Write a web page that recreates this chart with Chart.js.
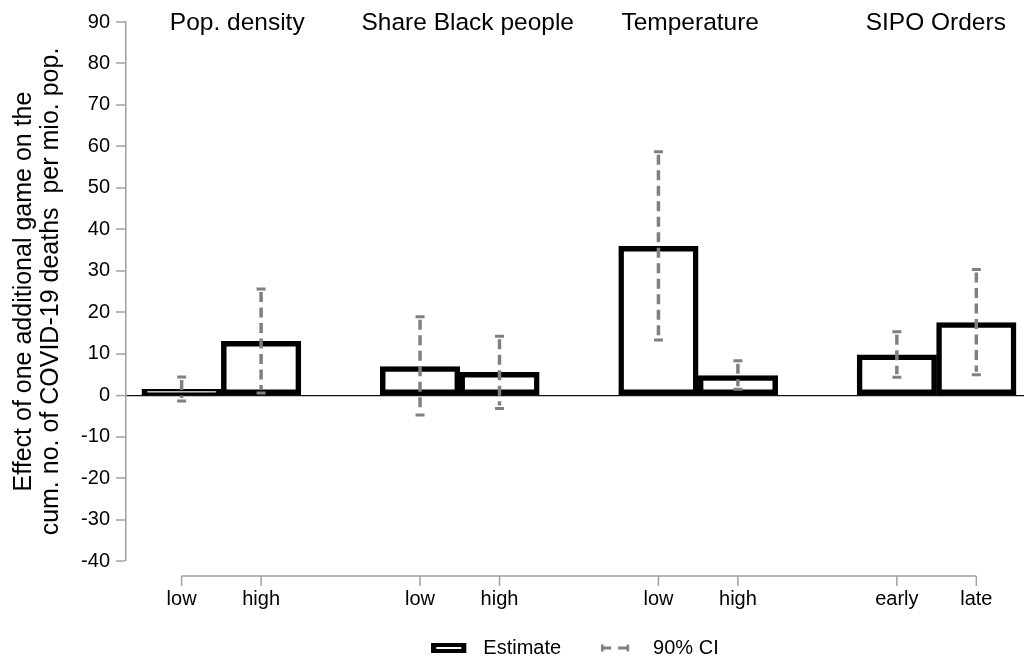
<!DOCTYPE html>
<html>
<head>
<meta charset="utf-8">
<script src="https://cdn.jsdelivr.net/npm/chart.js@4.4.1/dist/chart.umd.min.js"></script>
<style>
  html, body { margin: 0; padding: 0; background: #fff; }
  #wrap { width: 1024px; height: 657px; }
</style>
</head>
<body>
<div id="wrap"><canvas id="chart"></canvas></div>
<script>
// data
const groups = ['Pop. density', 'Share Black people', 'Temperature', 'SIPO Orders'];
const xLabels = ['low', 'high', 'low', 'high', 'low', 'high', 'early', 'late'];
const estimates = [1.4, 13.0, 6.9, 5.5, 35.9, 4.7, 9.7, 17.5];
const ciLow = [-1.4, 0.5, -4.8, -3.2, 13.3, 1.4, 4.3, 4.9];
const ciHigh = [4.4, 25.6, 18.9, 14.2, 58.7, 8.3, 15.3, 30.3];
const yMin = -40;
const yMax = 90;
const yStep = 10;

// bar slots on the x scale, one empty slot between groups
const slots = [1, 2, 4, 5, 7, 8, 10, 11];
const titleSlots = [1.70, 4.60, 7.40, 10.49];

const FONT = "'Liberation Sans', Arial, sans-serif";
Chart.defaults.font.family = FONT;
Chart.defaults.color = '#000';

function legendBar() {
  const c = document.createElement('canvas');
  c.width = 42; c.height = 10;
  const g = c.getContext('2d');
  g.fillStyle = '#000';
  g.fillRect(0, 0, 35, 10);
  g.fillStyle = '#fff';
  g.fillRect(5, 4, 25, 2);
  return c;
}

function legendCI() {
  const c = document.createElement('canvas');
  c.width = 42; c.height = 10;
  const g = c.getContext('2d');
  g.fillStyle = '#808080';
  g.fillRect(0, 1.5, 2.5, 7);
  g.fillRect(0, 3.5, 10, 3);
  g.fillRect(17, 3.5, 11, 3);
  g.fillRect(25.5, 1.5, 2.5, 7);
  return c;
}

const decor = {
  id: 'decor',
  afterDatasetsDraw(chart) {
    const ctx = chart.ctx;
    const x = chart.scales.x;
    const y = chart.scales.y;
    ctx.save();

    // confidence intervals
    ctx.strokeStyle = '#808080';
    slots.forEach((s, i) => {
      const px = x.getPixelForValue(s);
      const top = y.getPixelForValue(ciHigh[i]);
      const bot = y.getPixelForValue(ciLow[i]);
      ctx.lineWidth = 3.5;
      ctx.setLineDash([10, 5.5]);
      ctx.beginPath();
      ctx.moveTo(px, top + 3);
      ctx.lineTo(px, bot - 3);
      ctx.stroke();
      ctx.setLineDash([]);
      ctx.lineWidth = 3;
      ctx.beginPath();
      ctx.moveTo(px - 4.5, top); ctx.lineTo(px + 4.5, top);
      ctx.moveTo(px - 4.5, bot); ctx.lineTo(px + 4.5, bot);
      ctx.stroke();
    });

    // detached x axis line, ticks and labels
    const ay = chart.chartArea.bottom + 15;
    ctx.strokeStyle = '#a0a0a0';
    ctx.lineWidth = 1.5;
    ctx.beginPath();
    ctx.moveTo(x.getPixelForValue(slots[0]), ay);
    ctx.lineTo(x.getPixelForValue(slots[slots.length - 1]), ay);
    slots.forEach(s => {
      const px = x.getPixelForValue(s);
      ctx.moveTo(px, ay);
      ctx.lineTo(px, ay + 10);
    });
    ctx.stroke();

    ctx.fillStyle = '#000';
    ctx.font = '20px ' + FONT;
    ctx.textAlign = 'center';
    ctx.textBaseline = 'middle';
    slots.forEach((s, i) => ctx.fillText(xLabels[i], x.getPixelForValue(s), ay + 23));

    // group titles
    ctx.font = '24.5px ' + FONT;
    ctx.textBaseline = 'alphabetic';
    groups.forEach((g, i) => ctx.fillText(g, x.getPixelForValue(titleSlots[i]), 30));
    ctx.restore();
  }
};

new Chart(document.getElementById('chart'), {
  type: 'bar',
  data: {
    datasets: [{
      label: 'Estimate',
      data: slots.map((s, i) => ({x: s, y: estimates[i]})),
      backgroundColor: '#fff',
      borderColor: '#000',
      borderWidth: 5.5,
      borderSkipped: false,
      categoryPercentage: 1,
      barPercentage: 1
    }]
  },
  options: {
    responsive: true,
    maintainAspectRatio: false,
    animation: false,
    layout: { padding: { top: 22, right: 0, bottom: -11, left: 0 } },
    plugins: {
      tooltip: { enabled: false },
      legend: {
        position: 'bottom',
        fullSize: false,
        labels: {
          usePointStyle: true,
          pointStyleWidth: 42,
          padding: 40,
          font: { size: 20 },
          color: '#000',
          generateLabels: () => [
            { text: 'Estimate', pointStyle: legendBar(), fillStyle: '#000', strokeStyle: '#000', lineWidth: 0, hidden: false, datasetIndex: 0 },
            { text: '90% CI', pointStyle: legendCI(), fillStyle: '#808080', strokeStyle: '#808080', lineWidth: 0, hidden: false, datasetIndex: 0 }
          ]
        }
      }
    },
    scales: {
      x: {
        type: 'linear',
        offset: false,
        min: 0.3,
        max: 11.6,
        grid: { display: false, drawTicks: false },
        border: { display: false },
        afterBuildTicks: s => { s.ticks = slots.map(v => ({ value: v })); },
        afterFit: s => { s.height = 37; },
        ticks: { display: false }
      },
      y: {
        min: yMin,
        max: yMax,
        afterFit: s => { s.width = 126; },
        border: { display: true, color: '#a0a0a0', width: 1.5 },
        grid: {
          drawOnChartArea: true,
          color: c => (c.tick && c.tick.value === 0) ? '#111' : 'rgba(0,0,0,0)',
          lineWidth: c => (c.tick && c.tick.value === 0) ? 1.2 : 0,
          tickLength: 10,
          tickColor: '#a0a0a0',
          tickWidth: 1.5
        },
        ticks: {
          stepSize: yStep,
          padding: 6,
          font: { size: 20 },
          color: '#000'
        },
        title: {
          display: true,
          text: ['Effect of one additional game on the', 'cum. no. of COVID-19 deaths  per mio. pop.'],
          font: { size: 25, lineHeight: 1.1 },
          color: '#000',
          padding: { top: 10, bottom: 0 }
        }
      }
    }
  },
  plugins: [decor]
});
</script>
</body>
</html>
